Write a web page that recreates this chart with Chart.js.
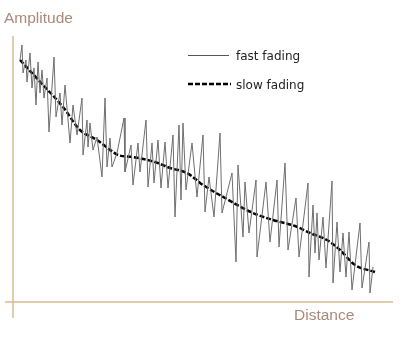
<!DOCTYPE html>
<html>
<head>
<meta charset="utf-8">
<script src="https://cdn.jsdelivr.net/npm/chart.js@4/dist/chart.umd.min.js"></script>
<style>
  body { margin: 0; background: #fff; }
  #wrap { position: relative; width: 411px; height: 341px; }
</style>
</head>
<body>
<div id="wrap"><canvas id="fadingChart" width="411" height="341"></canvas></div>
<script>
// distance / amplitude in plot units (0..380 across, 0..266 up)
let fastX = [7, 9, 10, 13, 14, 17, 19, 21, 23, 25, 27, 29, 31, 34, 36, 41, 43, 47, 49, 52,
    57, 60, 64, 69, 70, 74, 75, 77, 80, 84, 89, 92, 94, 97, 99, 104, 111, 112, 118, 120,
    125, 127, 133, 135, 139, 141, 145, 148, 152, 155, 160, 162, 166, 168, 170, 173, 179, 184, 190, 192,
    196, 201, 207, 209, 219, 223, 225, 230, 232, 236, 243, 244, 253, 257, 264, 266, 272, 275, 283, 286,
    295, 296, 300, 302, 304, 306, 310, 313, 319, 320, 324, 327, 330, 333, 336, 339, 347, 349, 356, 357, 360];
let fastY = [242, 257, 229, 242, 220, 249, 214, 234, 197, 240, 209, 232, 204, 224, 170, 245, 185, 209, 177, 217,
    159, 197, 167, 204, 147, 182, 155, 179, 152, 165, 125, 204, 135, 164, 135, 149, 184, 130, 157, 117,
    159, 130, 182, 115, 159, 119, 162, 114, 160, 114, 167, 85, 177, 102, 179, 112, 159, 105, 167, 90,
    125, 85, 169, 89, 129, 40, 137, 65, 120, 69, 122, 45, 120, 60, 122, 55, 139, 52, 104, 45,
    119, 25, 97, 49, 89, 42, 85, 34, 121, 19, 80, 30, 69, 25, 70, 12, 79, 14, 60, 9, 35];

let slowX = [7, 30, 50, 67, 84, 100, 105, 120, 142, 157, 174, 190, 212, 240, 260, 282, 297, 314, 327, 342, 362];
let slowY = [242, 217, 195, 172, 162, 150, 147, 145, 140, 134, 129, 117, 104, 89, 82, 76, 69, 62, 52, 37, 30];

let seriesNames = ["fast fading", "slow fading"];

function pts(xs, ys) {
    return xs.map((x, i) => ({x: x, y: ys[i]}));
}

// axes drawn by hand so they can overshoot like the original
const axesPlugin = {
    id: "axes",
    afterDraw(chart) {
        let ctx = chart.ctx;
        let a = chart.chartArea;
        ctx.save();
        ctx.strokeStyle = "#d8bc94";
        ctx.lineWidth = 1.5;
        ctx.beginPath();
        ctx.moveTo(a.left, a.top);
        ctx.lineTo(a.left, a.bottom + 16);
        ctx.moveTo(a.left - 8, a.bottom);
        ctx.lineTo(a.right, a.bottom);
        ctx.stroke();

        ctx.fillStyle = "#a98a78";
        ctx.font = "15.5px 'Liberation Sans', Arial, sans-serif";
        ctx.textBaseline = "middle";
        ctx.fillText("Amplitude", 4, 19);
        ctx.fillText("Distance", 294, 316);
        ctx.restore();
    }
};

const legendPlugin = {
    id: "legendBox",
    afterDraw(chart) {
        let ctx = chart.ctx;
        ctx.save();
        ctx.font = "12px 'DejaVu Sans', sans-serif";
        ctx.textBaseline = "middle";
        ctx.fillStyle = "#222";

        ctx.strokeStyle = "#555";
        ctx.lineWidth = 1;
        ctx.beginPath();
        ctx.moveTo(188, 55.5);
        ctx.lineTo(229, 55.5);
        ctx.stroke();
        ctx.fillText(seriesNames[0], 236, 57);

        ctx.strokeStyle = "#000";
        ctx.lineWidth = 2.5;
        ctx.setLineDash([5, 2]);
        ctx.beginPath();
        ctx.moveTo(188, 84);
        ctx.lineTo(231, 84);
        ctx.stroke();
        ctx.setLineDash([]);
        ctx.fillText(seriesNames[1], 236, 86);
        ctx.restore();
    }
};

new Chart(document.getElementById("fadingChart"), {
    type: "line",
    data: {
        datasets: [
            {
                label: seriesNames[0],
                data: pts(fastX, fastY),
                borderColor: "#6e6e6e",
                borderWidth: 1,
                pointRadius: 0,
                tension: 0
            },
            {
                label: seriesNames[1],
                data: pts(slowX, slowY),
                borderColor: "#000",
                borderWidth: 2.5,
                borderDash: [5, 2],
                pointRadius: 0,
                cubicInterpolationMode: "monotone"
            }
        ]
    },
    options: {
        responsive: false,
        animation: false,
        layout: {
            padding: {left: 13, top: 36, right: 18, bottom: 39}
        },
        scales: {
            x: {type: "linear", min: 0, max: 380, display: false},
            y: {min: 0, max: 266, display: false}
        },
        plugins: {
            legend: {display: false},
            tooltip: {enabled: false}
        }
    },
    plugins: [axesPlugin, legendPlugin]
});
</script>
</body>
</html>
